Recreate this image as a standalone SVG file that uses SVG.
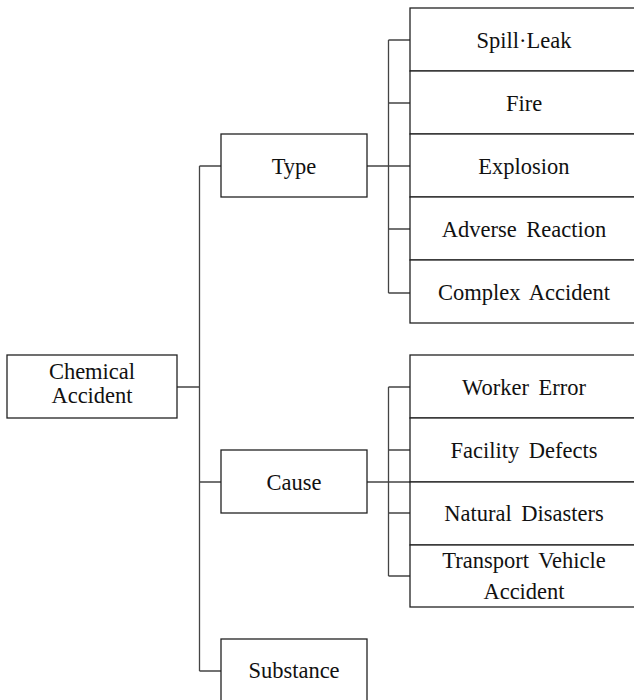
<svg xmlns="http://www.w3.org/2000/svg" width="634" height="700" viewBox="0 0 634 700">
<style>
.box{fill:#fff;stroke:#222;stroke-width:1.3}
.lbl{font-family:"Liberation Serif","Times New Roman",serif;font-size:22.5px;fill:#111;text-anchor:middle;word-spacing:4px}
.conn{fill:none;stroke:#444;stroke-width:1.3}
</style>
<rect width="634" height="700" fill="#fff"/>
<g id="connectors">
<path class="conn" d="M177,387H199.5M199.5,166V671M199.5,166H221M199.5,482H221M199.5,671H221"/>
<path class="conn" d="M367,166H410M388.5,40V293M388.5,40H410M388.5,103H410M388.5,229H410M388.5,293H410"/>
<path class="conn" d="M367,482H410M388.5,387V576M388.5,387H410M388.5,450H410M388.5,513H410M388.5,576H410"/>
</g>
<g id="chemical-accident"><rect class="box" x="7" y="355" width="170" height="63"/><text class="lbl" x="92" y="379">Chemical</text><text class="lbl" x="92" y="403">Accident</text></g>
<g id="type"><rect class="box" x="221" y="134" width="146" height="63"/><text class="lbl" x="294" y="174">Type</text></g>
<g id="cause"><rect class="box" x="221" y="450" width="146" height="63"/><text class="lbl" x="294" y="490">Cause</text></g>
<g id="substance"><rect class="box" x="221" y="639" width="146" height="70"/><text class="lbl" x="294" y="678">Substance</text></g>
<g id="spill-leak"><rect class="box" x="410" y="8" width="240" height="63"/><text class="lbl" x="524" y="48">Spill·Leak</text></g>
<g id="fire"><rect class="box" x="410" y="71" width="240" height="63"/><text class="lbl" x="524" y="111">Fire</text></g>
<g id="explosion"><rect class="box" x="410" y="134" width="240" height="63"/><text class="lbl" x="524" y="174">Explosion</text></g>
<g id="adverse-reaction"><rect class="box" x="410" y="197" width="240" height="63"/><text class="lbl" x="524" y="237">Adverse Reaction</text></g>
<g id="complex-accident"><rect class="box" x="410" y="260" width="240" height="63"/><text class="lbl" x="524" y="300">Complex Accident</text></g>
<g id="worker-error"><rect class="box" x="410" y="355" width="240" height="63"/><text class="lbl" x="524" y="395">Worker Error</text></g>
<g id="facility-defects"><rect class="box" x="410" y="418" width="240" height="64"/><text class="lbl" x="524" y="458">Facility Defects</text></g>
<g id="natural-disasters"><rect class="box" x="410" y="482" width="240" height="63"/><text class="lbl" x="524" y="521">Natural Disasters</text></g>
<g id="transport-vehicle-accident"><rect class="box" x="410" y="545" width="240" height="62"/><text class="lbl" x="524" y="568">Transport Vehicle</text><text class="lbl" x="524" y="599">Accident</text></g>
</svg>
